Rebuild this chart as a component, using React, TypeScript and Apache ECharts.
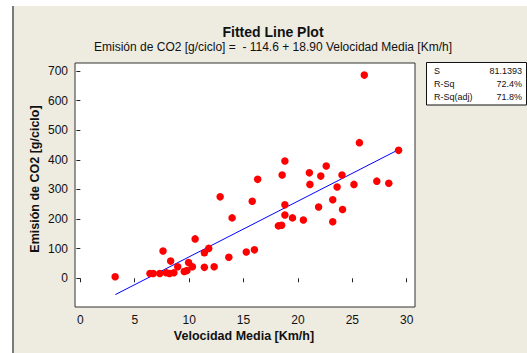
import React, { useEffect, useRef } from "react";
import * as echarts from "echarts";

const speedKmh: number[] = [
  3.2, 6.4, 6.7, 7.3, 7.6, 7.9, 8.2, 8.3, 8.6, 8.95, 9.55, 9.8, 9.95, 10.3, 10.55,
  11.4, 11.8, 11.4, 12.3, 12.85, 13.65, 13.95, 15.25, 15.8, 16.0, 16.3, 18.2, 18.5,
  18.55, 18.8, 18.8, 18.8, 19.5, 20.5, 21.05, 21.1, 21.9, 22.1, 22.6, 23.2, 23.2,
  23.6, 24.05, 24.1, 25.15, 25.65, 26.1, 27.25, 28.35, 29.25,
];
const co2: number[] = [
  5, 16, 16, 16, 92, 19, 16, 58, 19, 39, 23, 26, 53, 39, 133,
  86, 101, 37, 39, 275, 71, 204, 89, 260, 96, 334, 177, 179,
  349, 396, 248, 214, 204, 197, 356, 317, 241, 345, 379, 265, 191,
  308, 349, 232, 317, 458, 686, 328, 321, 432,
];
const fitX: number[] = [3.22, 29.23];
const fitY: number[] = [-55, 434];
const xTicks: number[] = [0, 5, 10, 15, 20, 25, 30];
const yTicks: number[] = [0, 100, 200, 300, 400, 500, 600, 700];
const statLabels: string[] = ["S", "R-Sq", "R-Sq(adj)"];
const statValues: string[] = ["81.1393", "72.4%", "71.8%"];

const FONT = "'Liberation Sans', Arial, sans-serif";

export default function App() {
  const ref = useRef<HTMLDivElement>(null);
  useEffect(() => {
    document.body.style.margin = "0";
    if (!ref.current) return;
    const chart = echarts.init(ref.current, null, { renderer: "svg" });
    const statTexts: any[] = [];
    statLabels.forEach((l, i) => {
      statTexts.push({
        type: "text",
        x: 434,
        y: 71 + i * 13.2,
        style: { text: l, font: `9px ${FONT}`, fill: "#111", textAlign: "left", textVerticalAlign: "middle" },
      });
      statTexts.push({
        type: "text",
        x: 522,
        y: 71 + i * 13.2,
        style: { text: statValues[i], font: `9px ${FONT}`, fill: "#111", textAlign: "right", textVerticalAlign: "middle" },
      });
    });
    chart.setOption({
      animation: false,
      backgroundColor: "transparent",
      grid: {
        left: 75,
        top: 63,
        width: 340,
        height: 244,
        show: true,
        backgroundColor: "#ffffff",
        borderColor: "#333333",
        borderWidth: 1,
      },
      xAxis: {
        type: "value",
        min: -0.49,
        max: 30.76,
        axisLine: { show: false },
        splitLine: { show: false },
        axisTick: { show: true, length: 4, customValues: xTicks, lineStyle: { color: "#222" } },
        axisLabel: { customValues: xTicks, margin: 7, color: "#111", fontSize: 12, fontFamily: FONT },
      },
      yAxis: {
        type: "value",
        min: -96.9,
        max: 726.9,
        axisLine: { show: false },
        splitLine: { show: false },
        axisTick: { show: true, length: 4, customValues: yTicks, lineStyle: { color: "#222" } },
        axisLabel: { customValues: yTicks, margin: 7, color: "#111", fontSize: 12, fontFamily: FONT },
      },
      series: [
        {
          type: "line",
          data: fitX.map((x, i) => [x, fitY[i]]),
          symbol: "none",
          lineStyle: { color: "#0000ff", width: 1 },
          z: 2,
        },
        {
          type: "scatter",
          data: speedKmh.map((x, i) => [x, co2[i]]),
          symbol: "circle",
          symbolSize: 7.5,
          itemStyle: { color: "#ff0000", opacity: 1 },
          z: 3,
        },
      ],
      graphic: [
        {
          type: "text",
          x: 273,
          y: 32,
          style: { text: "Fitted Line Plot", font: `bold 14px ${FONT}`, fill: "#111", textAlign: "center", textVerticalAlign: "middle" },
        },
        {
          type: "text",
          x: 273,
          y: 47,
          style: {
            text: "Emisión de CO2 [g/ciclo] =  - 114.6 + 18.90 Velocidad Media [Km/h]",
            font: `12px ${FONT}`,
            fill: "#111",
            textAlign: "center",
            textVerticalAlign: "middle",
          },
        },
        {
          type: "text",
          x: 244,
          y: 336,
          style: { text: "Velocidad Media [Km/h]", font: `bold 12.5px ${FONT}`, fill: "#111", textAlign: "center", textVerticalAlign: "middle" },
        },
        {
          type: "text",
          x: 35,
          y: 179,
          rotation: Math.PI / 2,
          style: { text: "Emisión de CO2 [g/ciclo]", font: `bold 12.5px ${FONT}`, fill: "#111", textAlign: "center", textVerticalAlign: "middle" },
        },
        {
          type: "rect",
          shape: { x: 426.5, y: 62.5, width: 100, height: 42.5 },
          style: { fill: "#ffffff", stroke: "#111", lineWidth: 1 },
        },
        ...statTexts,
      ],
    });
    return () => chart.dispose();
  }, []);
  return (
    <div style={{ position: "relative", width: 527, height: 353, background: "#ffffff" }}>
      <div
        style={{
          position: "absolute",
          left: 12,
          top: 6,
          width: 515,
          height: 347,
          background: "#eeebe1",
          borderLeft: "2px solid #7a7a7a",
          boxSizing: "border-box",
        }}
      />
      <div ref={ref} style={{ position: "absolute", left: 0, top: 0, width: 527, height: 353 }} />
    </div>
  );
}
